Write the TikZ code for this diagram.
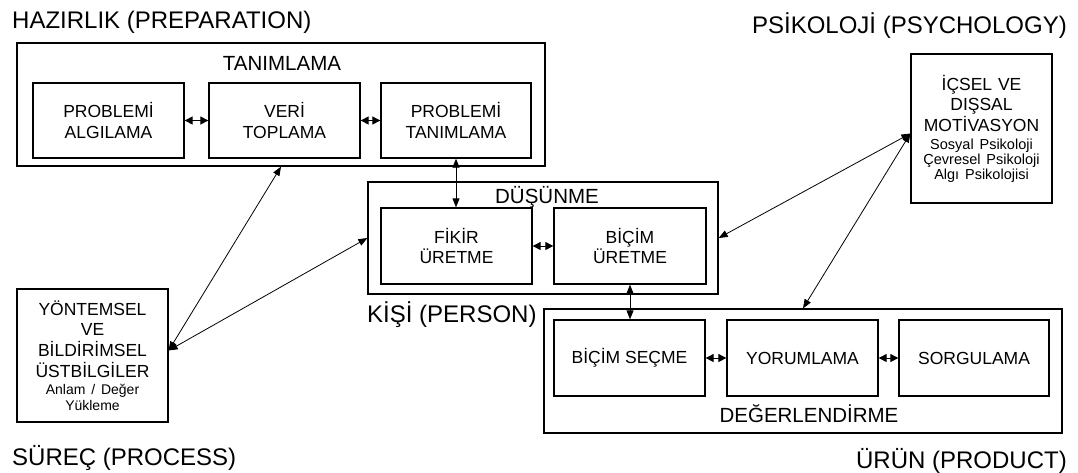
\documentclass[tikz,border=0pt]{standalone}
\usepackage{fontspec}
\setmainfont{Liberation Sans}
\usetikzlibrary{arrows.meta}
\begin{document}
\begin{tikzpicture}[x=1pt,y=-1pt,
  box/.style={draw=black, line width=1.3pt, inner sep=0pt, align=center,
    font=\fontsize{17.5}{20.5}\selectfont},
  frame/.style={draw=black, line width=1.3pt, inner sep=0pt},
  lbl/.style={inner sep=0pt, anchor=base, font=\fontsize{20.5}{24}\selectfont},
  title/.style={inner sep=0pt, font=\fontsize{24}{28}\selectfont},
  conn/.style={line width=0.8pt, >={Triangle[length=9pt,width=7pt]}, <->},
  pair/.style={line width=1pt, >={Triangle[length=8pt,width=8pt]}, <->},
]
\useasboundingbox (0,0) rectangle (1078,472);

% titles
\node[title, anchor=base west] (tprep) at (12,28) {HAZIRLIK (PREPARATION)};
\node[title, anchor=base east] (tpsy) at (1067,33) {PSİKOLOJİ (PSYCHOLOGY)};
\node[title, anchor=base west] (tpers) at (367,322) {KİŞİ (PERSON)};
\node[title, anchor=base west] (tproc) at (12,465) {SÜREÇ (PROCESS)};
\node[title, anchor=base east] (tprod) at (1067,468) {ÜRÜN (PRODUCT)};

% TANIMLAMA group
\node[frame, minimum width=528, minimum height=123] (tanim) at (281,104.5) {};
\node[lbl] (ltanim) at (282,70) {TANIMLAMA};
\node[box, minimum width=151, minimum height=75] (pa) at (108.5,120.5) {PROBLEMİ\\ALGILAMA};
\node[box, minimum width=151, minimum height=75] (vt) at (284.5,120.5) {VERİ\\TOPLAMA};
\node[box, minimum width=150, minimum height=75] (pt) at (456,120.5) {PROBLEMİ\\TANIMLAMA};

% DÜŞÜNME group
\node[frame, minimum width=350, minimum height=112] (dus) at (543,238) {};
\node[lbl] (ldus) at (547,203) {DÜŞÜNME};
\node[box, minimum width=151, minimum height=76] (fu) at (456.5,246) {FİKİR\\ÜRETME};
\node[box, minimum width=152, minimum height=76] (bu) at (630,246) {BİÇİM\\ÜRETME};

% DEĞERLENDİRME group
\node[frame, minimum width=518, minimum height=124] (deg) at (803,371) {};
\node[lbl] (ldeg) at (809,422) {DEĞERLENDİRME};
\node[box, minimum width=151, minimum height=76] (bs) at (629.5,358) {BİÇİM SEÇME};
\node[box, minimum width=151, minimum height=76] (yo) at (802.5,358) {YORUMLAMA};
\node[box, minimum width=150, minimum height=76] (so) at (974,358) {SORGULAMA};

% Psychology box
\node[box, text width=141pt, minimum height=149] (psi) at (981.5,128.5)
  {\fontsize{17.5}{20.5}\selectfont İÇSEL VE\\DIŞSAL\\MOTİVASYON\par\vskip3pt
   \fontsize{14.5}{15}\selectfont Sosyal Psikoloji\\Çevresel Psikoloji\\Algı Psikolojisi\par};

% Process box
\node[box, text width=151pt, minimum height=133] (yon) at (92.5,355.5)
  {\fontsize{17.5}{20.8}\selectfont YÖNTEMSEL\\VE\\BİLDİRİMSEL\\ÜSTBİLGİLER\par\vskip1pt
   \fontsize{14}{16}\selectfont Anlam / Değer\\Yükleme\par};

% inner double arrows
\draw[pair] (pa.east) -- (vt.west);
\draw[pair] (vt.east) -- (pt.west);
\draw[pair] (fu.east) -- (bu.west);
\draw[pair] (bs.east) -- (yo.west);
\draw[pair] (yo.east) -- (so.west);

% vertical connectors
\draw[conn] (pt.south) -- (pt.south |- fu.north);
\draw[conn] (bu.south) -- (bu.south |- bs.north);

% long connectors
\draw[conn] ([yshift=5pt]yon.east) -- (tanim.south);
\draw[conn] ([yshift=5pt]yon.east) -- (dus.west);
\draw[conn] ([yshift=-5pt]psi.west) -- (dus.east);
\draw[conn] ([yshift=-5pt]psi.west) -- (deg.north);
\end{tikzpicture}
\end{document}
